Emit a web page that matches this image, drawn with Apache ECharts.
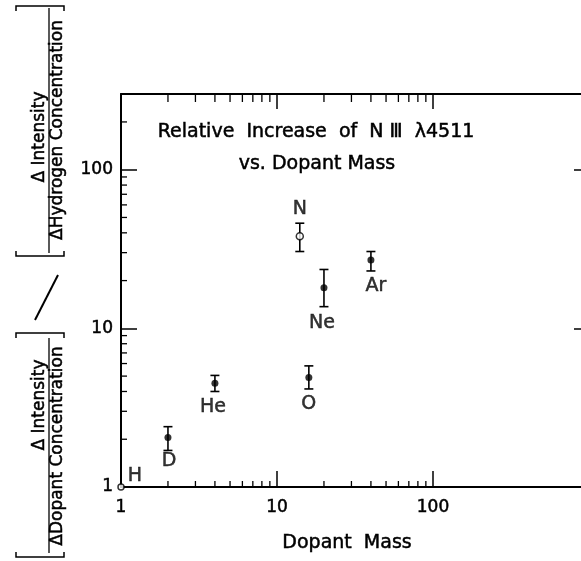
<!DOCTYPE html>
<html>
<head>
<meta charset="utf-8">
<script src="https://cdn.jsdelivr.net/npm/echarts@6/dist/echarts.min.js"></script>
<style>
  html, body { margin: 0; padding: 0; background: #fff; overflow: hidden; }
  #chart { width: 600px; height: 561px; }
</style>
</head>
<body>
<div id="chart"></div>
<script>
// Dopant species, their masses and the measured relative increase of N III 4511
const elements     = ['H', 'D', 'He', 'N', 'O', 'Ne', 'Ar'];
const dopantMass   = [1, 2, 4, 14, 16, 20, 40];
const relIncrease  = [1, 2.05, 4.5, 38, 4.9, 18, 27];
const errLow       = [null, 1.7, 4.0, 30.5, 4.15, 13.7, 23];
const errHigh      = [null, 2.4, 5.05, 46, 5.8, 23.5, 30.5];

// Axis ticks (log decades and the minor ticks between them)
const xTickLabels  = ['1', '10', '100'];
const yTickLabels  = ['1', '10', '100'];
const xMinorTicks  = [2, 3, 4, 5, 6, 7, 8, 9, 20, 30, 40, 50, 60, 70, 80, 90];
const yMinorTicks  = [2, 3, 4, 5, 6, 7, 8, 9, 20, 30, 40, 50, 60, 70, 80, 90, 200];

const X_MIN = 1, X_MAX = 1000, Y_MIN = 1, Y_MAX = 300;

// marker and label styling per species
const openMarkers = { H: 6, N: 7 };
const labelOffset = {
  H: [14, -11], D: [1, 24], He: [-2, 24], N: [0, -27],
  O: [0, 27], Ne: [-2, 35], Ar: [5, 26]
};

const FONT = '"DejaVu Sans", sans-serif';
const INK = '#000';
// pen-lettering look: a thin outline in the text colour thickens the glyphs
const PEN = { textBorderColor: INK, textBorderWidth: 0.5 };

function decadeLabel(allowed) {
  return function (v) {
    const s = String(+Number(v).toPrecision(6));
    return allowed.indexOf(s) >= 0 ? s : '';
  };
}

function penText(x, y, text, size, rotation) {
  return {
    type: 'text', x: x, y: y, rotation: rotation || 0, z: 10,
    style: {
      text: text, font: size + 'px ' + FONT, fill: INK,
      stroke: INK, lineWidth: 0.5,
      align: 'center', verticalAlign: 'middle'
    }
  };
}

const chart = echarts.init(document.getElementById('chart'), null, { renderer: 'canvas' });

// minor tick marks: [x, y, side]  side 0 = bottom, 1 = top, 2 = left
const minorTickData = []
  .concat(xMinorTicks.map(v => [v, Y_MIN, 0]))
  .concat(xMinorTicks.map(v => [v, Y_MAX, 1]))
  .concat(yMinorTicks.map(v => [X_MIN, v, 2]));

const errorData = [];
elements.forEach((el, i) => {
  if (errLow[i] != null) errorData.push([dopantMass[i], errLow[i], errHigh[i]]);
});

const pointData = elements.map((el, i) => {
  const open = openMarkers[el] != null;
  return {
    name: el,
    value: [dopantMass[i], relIncrease[i]],
    symbolSize: open ? openMarkers[el] : 7,
    itemStyle: open
      ? { color: '#fff', borderColor: INK, borderWidth: 1.5 }
      : { color: INK, borderColor: INK, borderWidth: 0 },
    label: Object.assign({
      show: true, position: 'inside', offset: labelOffset[el],
      formatter: el, color: INK, fontSize: 19, fontFamily: FONT
    }, PEN)
  };
});

const axisLineStyle = { color: INK, width: 2 };

const option = {
  backgroundColor: '#fff',
  animation: false,
  grid: { left: 121, top: 94, right: 11, bottom: 74, containLabel: false },
  xAxis: [
    {
      type: 'log', logBase: 10, min: X_MIN, max: X_MAX, position: 'bottom',
      axisLine: { show: true, lineStyle: axisLineStyle },
      axisTick: { show: true, inside: true, length: 16, lineStyle: { color: INK, width: 1.5 } },
      minorTick: { show: false },
      splitLine: { show: false },
      axisLabel: Object.assign({
        show: true, margin: 12, color: INK, fontSize: 17, fontFamily: FONT,
        formatter: decadeLabel(xTickLabels)
      }, PEN),
      name: 'Dopant  Mass', nameLocation: 'middle', nameGap: 47,
      nameTextStyle: Object.assign({ color: INK, fontSize: 19, fontFamily: FONT, padding: [0, 16, 0, 0] }, PEN)
    },
    {
      type: 'log', logBase: 10, min: X_MIN, max: X_MAX, position: 'top',
      axisLine: { show: true, lineStyle: axisLineStyle },
      axisTick: { show: true, inside: true, length: 15, lineStyle: { color: INK, width: 1.5 } },
      splitLine: { show: false },
      axisLabel: { show: false }
    }
  ],
  yAxis: [
    {
      type: 'log', logBase: 10, min: Y_MIN, max: Y_MAX, position: 'left',
      axisLine: { show: true, lineStyle: axisLineStyle },
      axisTick: { show: true, inside: true, length: 16, lineStyle: { color: INK, width: 1.5 } },
      splitLine: { show: false },
      axisLabel: Object.assign({
        show: true, margin: 8, color: INK, fontSize: 17, fontFamily: FONT,
        formatter: decadeLabel(yTickLabels)
      }, PEN)
    },
    {
      type: 'log', logBase: 10, min: Y_MIN, max: Y_MAX, position: 'right',
      axisLine: { show: true, lineStyle: axisLineStyle },
      axisTick: { show: true, inside: true, length: 15, lineStyle: { color: INK, width: 1.5 } },
      splitLine: { show: false },
      axisLabel: { show: false }
    }
  ],
  series: [
    {
      name: 'minor ticks', type: 'custom', xAxisIndex: 0, yAxisIndex: 0,
      clip: false, silent: true, z: 3,
      encode: { x: 0, y: 1 },
      data: minorTickData,
      renderItem: function (params, api) {
        const p = api.coord([api.value(0), api.value(1)]);
        const side = api.value(2);
        let shape;
        if (side === 0) shape = { x1: p[0], y1: p[1], x2: p[0], y2: p[1] - 6 };
        else if (side === 1) shape = { x1: p[0], y1: p[1], x2: p[0], y2: p[1] + 8 };
        else shape = { x1: p[0], y1: p[1], x2: p[0] + 6, y2: p[1] };
        return { type: 'line', shape: shape, style: { stroke: INK, lineWidth: 1.3 } };
      }
    },
    {
      name: 'error bars', type: 'custom', xAxisIndex: 0, yAxisIndex: 0,
      clip: false, silent: true, z: 4,
      encode: { x: 0, y: [1, 2] },
      data: errorData,
      renderItem: function (params, api) {
        const lo = api.coord([api.value(0), api.value(1)]);
        const hi = api.coord([api.value(0), api.value(2)]);
        const cap = 4.5;
        const st = { stroke: INK, lineWidth: 1.6 };
        return {
          type: 'group',
          children: [
            { type: 'line', shape: { x1: lo[0], y1: lo[1], x2: hi[0], y2: hi[1] }, style: st },
            { type: 'line', shape: { x1: lo[0] - cap, y1: lo[1], x2: lo[0] + cap, y2: lo[1] }, style: st },
            { type: 'line', shape: { x1: hi[0] - cap, y1: hi[1], x2: hi[0] + cap, y2: hi[1] }, style: st }
          ]
        };
      }
    },
    {
      name: 'relative increase', type: 'scatter', xAxisIndex: 0, yAxisIndex: 0,
      symbol: 'circle', clip: false, z: 5,
      data: pointData
    }
  ],
  graphic: [
    // chart heading
    penText(316, 132, 'Relative  Increase  of  N Ⅲ  λ4511', 19),
    penText(317, 164, 'vs. Dopant Mass', 19),

    // vertical axis title: [ΔI / ΔC_dopant] / [ΔI / ΔC_hydrogen]
    penText(40, 405, 'Δ Intensity', 17, Math.PI / 2),
    { type: 'line', shape: { x1: 49, y1: 338, x2: 49, y2: 553 }, style: { stroke: INK, lineWidth: 1.3 } },
    penText(58, 446, 'ΔDopant Concentration', 17, Math.PI / 2),
    { type: 'polyline', shape: { points: [[16, 552], [16, 557], [64, 557], [64, 552]] }, style: { stroke: INK, lineWidth: 1.5, fill: null } },
    { type: 'polyline', shape: { points: [[16, 338], [16, 333], [64, 333], [64, 338]] }, style: { stroke: INK, lineWidth: 1.5, fill: null } },

    { type: 'line', shape: { x1: 35, y1: 320, x2: 58, y2: 275 }, style: { stroke: INK, lineWidth: 2 } },

    penText(40, 137, 'Δ Intensity', 17, Math.PI / 2),
    { type: 'line', shape: { x1: 49, y1: 8, x2: 49, y2: 253 }, style: { stroke: INK, lineWidth: 1.3 } },
    penText(58, 130, 'ΔHydrogen Concentration', 17, Math.PI / 2),
    { type: 'polyline', shape: { points: [[16, 251], [16, 256], [64, 256], [64, 251]] }, style: { stroke: INK, lineWidth: 1.5, fill: null } },
    { type: 'polyline', shape: { points: [[16, 11], [16, 6], [64, 6], [64, 11]] }, style: { stroke: INK, lineWidth: 1.5, fill: null } }
  ]
};

chart.setOption(option);
</script>
</body>
</html>
